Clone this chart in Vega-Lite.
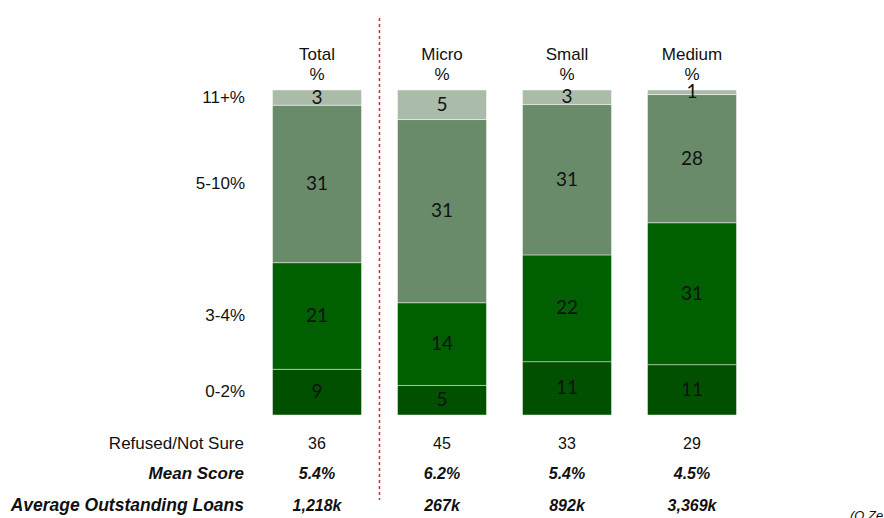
{
  "$schema": "https://vega.github.io/schema/vega-lite/v6.json",
  "width": 884,
  "height": 518,
  "autosize": {"type": "none"},
  "padding": 0,
  "background": "white",
  "config": {"view": {"stroke": null}, "text": {"font": "Liberation Sans"}},
  "datasets": {
    "dist": [
      {"group": "Total", "band": "0-2%", "pct": 9},
      {"group": "Total", "band": "3-4%", "pct": 21},
      {"group": "Total", "band": "5-10%", "pct": 31},
      {"group": "Total", "band": "11+%", "pct": 3},
      {"group": "Micro", "band": "0-2%", "pct": 5},
      {"group": "Micro", "band": "3-4%", "pct": 14},
      {"group": "Micro", "band": "5-10%", "pct": 31},
      {"group": "Micro", "band": "11+%", "pct": 5},
      {"group": "Small", "band": "0-2%", "pct": 11},
      {"group": "Small", "band": "3-4%", "pct": 22},
      {"group": "Small", "band": "5-10%", "pct": 31},
      {"group": "Small", "band": "11+%", "pct": 3},
      {"group": "Medium", "band": "0-2%", "pct": 11},
      {"group": "Medium", "band": "3-4%", "pct": 31},
      {"group": "Medium", "band": "5-10%", "pct": 28},
      {"group": "Medium", "band": "11+%", "pct": 1}
    ],
    "table": [
      {"group": "Total", "refused": 36, "mean": "5.4%", "loans": "1,218k"},
      {"group": "Micro", "refused": 45, "mean": "6.2%", "loans": "267k"},
      {"group": "Small", "refused": 33, "mean": "5.4%", "loans": "892k"},
      {"group": "Medium", "refused": 29, "mean": "4.5%", "loans": "3,369k"}
    ]
  },
  "encoding": {
    "x": {
      "field": "group",
      "type": "nominal",
      "axis": null,
      "scale": {
        "domain": ["lbl", "Total", "Micro", "Small", "Medium"],
        "range": [22.5, 861.5],
        "paddingInner": 0.288,
        "paddingOuter": 1
      }
    }
  },
  "layer": [
    {
      "data": {"name": "dist"},
      "transform": [
        {"calculate": "indexof(['0-2%','3-4%','5-10%','11+%'], datum.band)", "as": "ord"},
        {"stack": "pct", "groupby": ["group"], "sort": [{"field": "ord", "order": "ascending"}], "offset": "normalize", "as": ["y0", "y1"]},
        {"calculate": "(datum.y0 + datum.y1) / 2", "as": "mid"}
      ],
      "layer": [
        {
          "mark": {"type": "bar", "stroke": "#ffffff", "strokeOpacity": 0.45, "strokeWidth": 1},
          "encoding": {
            "y": {"field": "y0", "type": "quantitative", "axis": null,
                  "scale": {"domain": [-0.3169, 1.2769], "nice": false, "zero": false}},
            "y2": {"field": "y1"},
            "color": {
              "field": "band", "type": "nominal", "legend": null,
              "scale": {"domain": ["0-2%", "3-4%", "5-10%", "11+%"],
                        "range": ["#005000", "#005f00", "#6a8b6a", "#aabba9"]}
            }
          }
        },
        {
          "mark": {"type": "text", "font": "Lato", "fontSize": 19, "color": "#111111", "baseline": "middle"},
          "encoding": {
            "y": {"field": "mid", "type": "quantitative"},
            "text": {"field": "pct", "type": "quantitative"}
          }
        },
        {
          "transform": [{"filter": "datum.group === 'Total'"}],
          "mark": {"type": "text", "fontSize": 17, "color": "#111111", "align": "right", "baseline": "middle", "dx": 53},
          "encoding": {
            "x": {"datum": "lbl"},
            "y": {"field": "mid", "type": "quantitative"},
            "text": {"field": "band"}
          }
        }
      ]
    },
    {
      "data": {"name": "table"},
      "layer": [
        {
          "mark": {"type": "text", "fontSize": 17, "color": "#111111", "baseline": "middle"},
          "encoding": {"y": {"datum": 1.1077}, "text": {"field": "group"}}
        },
        {
          "mark": {"type": "text", "fontSize": 17, "color": "#111111", "baseline": "middle"},
          "encoding": {"y": {"datum": 1.0462}, "text": {"value": "%"}}
        },
        {
          "mark": {"type": "text", "fontSize": 16, "color": "#111111", "baseline": "middle"},
          "encoding": {"y": {"datum": -0.0892}, "text": {"field": "refused"}}
        },
        {
          "mark": {"type": "text", "fontSize": 16, "fontWeight": "bold", "fontStyle": "italic", "color": "#111111", "baseline": "middle"},
          "encoding": {"y": {"datum": -0.1815}, "text": {"field": "mean"}}
        },
        {
          "mark": {"type": "text", "fontSize": 16, "fontWeight": "bold", "fontStyle": "italic", "color": "#111111", "baseline": "middle"},
          "encoding": {"y": {"datum": -0.28}, "text": {"field": "loans"}}
        }
      ]
    },
    {
      "data": {"values": [{"label": "Refused/Not Sure"}]},
      "mark": {"type": "text", "fontSize": 17, "color": "#111111", "align": "right", "baseline": "middle", "dx": 52},
      "encoding": {"x": {"datum": "lbl"}, "y": {"datum": -0.0892}, "text": {"field": "label"}}
    },
    {
      "data": {"values": [{"label": "Mean Score"}]},
      "mark": {"type": "text", "fontSize": 17, "fontWeight": "bold", "fontStyle": "italic", "color": "#111111", "align": "right", "baseline": "middle", "dx": 52},
      "encoding": {"x": {"datum": "lbl"}, "y": {"datum": -0.1815}, "text": {"field": "label"}}
    },
    {
      "data": {"values": [{"label": "Average Outstanding Loans"}]},
      "mark": {"type": "text", "fontSize": 17.5, "fontWeight": "bold", "fontStyle": "italic", "color": "#111111", "align": "right", "baseline": "middle", "dx": 52},
      "encoding": {"x": {"datum": "lbl"}, "y": {"datum": -0.28}, "text": {"field": "label"}}
    },
    {
      "data": {"values": [{"label": "(Q.Ze)"}]},
      "mark": {"type": "text", "fontSize": 13, "fontStyle": "italic", "color": "#111111", "align": "left", "baseline": "top", "dx": 158},
      "encoding": {"x": {"datum": "Medium"}, "y": {"datum": -0.2923}, "text": {"field": "label"}}
    },
    {
      "data": {"values": [{"divider": "Total|Micro"}]},
      "mark": {"type": "rule", "color": "#d62a2a", "strokeWidth": 1.5, "strokeDash": [3, 3]},
      "encoding": {
        "x": {"datum": "Total", "bandPosition": 1.202},
        "y": {"datum": 1.2216},
        "y2": {"datum": -0.2615}
      }
    }
  ]
}
